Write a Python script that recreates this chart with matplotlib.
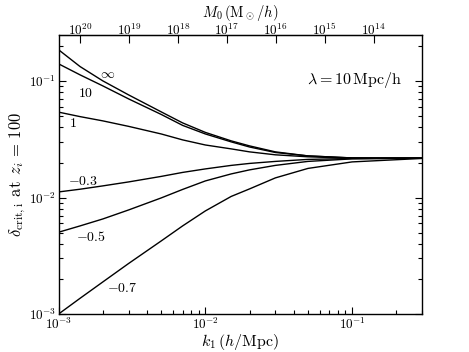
import numpy as np
import matplotlib
matplotlib.use("Agg")
import matplotlib.pyplot as plt
from matplotlib.ticker import FuncFormatter, NullLocator, FixedLocator

plt.rcParams['mathtext.fontset'] = 'cm'
plt.rcParams['font.family'] = 'DejaVu Serif'

# k_1 sample points (h/Mpc)
k1 = [1e-3, 1.4e-3, 2e-3, 3e-3, 5e-3, 7e-3, 1e-2, 1.5e-2, 2e-2, 3e-2, 5e-2, 0.1, 0.3]

# delta_crit,i at z_i = 100 for each curve
d_inf = [0.186, 0.1335, 0.1006, 0.0762, 0.0545, 0.0438, 0.0363, 0.0307, 0.0278, 0.0247, 0.0228, 0.0219, 0.0218]
d_10 = [0.1408, 0.1133, 0.0911, 0.0704, 0.0518, 0.0417, 0.0352, 0.0301, 0.0272, 0.0244, 0.0228, 0.0219, 0.0218]
d_1 = [0.0542, 0.0496, 0.0456, 0.0409, 0.0352, 0.0313, 0.0283, 0.0262, 0.0247, 0.0233, 0.0224, 0.0218, 0.0218]
d_m03 = [0.01118, 0.0118, 0.0126, 0.01363, 0.0152, 0.01645, 0.01763, 0.0189, 0.01965, 0.02045, 0.02128, 0.02166, 0.0218]
d_m05 = [0.00504, 0.00571, 0.00655, 0.00783, 0.00993, 0.01175, 0.0139, 0.01597, 0.0173, 0.0189, 0.02045, 0.0215, 0.0218]
d_m07 = [0.001, 0.001364, 0.001884, 0.002716, 0.00424, 0.00571, 0.00768, 0.01023, 0.01187, 0.01476, 0.0178, 0.02025, 0.02169]

curves = [d_inf, d_10, d_1, d_m03, d_m05, d_m07]
labels = [r'$\infty$', r'$10$', r'$1$', r'$-0.3$', r'$-0.5$', r'$-0.7$']
label_pos = [(0.00216, 0.1156), (0.00153, 0.0793), (0.00125, 0.0438),
             (0.00146, 0.0139), (0.00166, 0.00459), (0.0027, 0.00167)]

# mass scale M_0 = A k^-3
A = 10**11.44
mass_ticks = [1e14, 1e15, 1e16, 1e17, 1e18, 1e19, 1e20]

fig = plt.figure(figsize=(4.69, 3.52), dpi=100)
ax = fig.add_axes([0.125, 0.108, 0.775, 0.793])

for d in curves:
    ax.plot(k1, d, color='black', lw=1.0)

for lab, (x, y) in zip(labels, label_pos):
    ax.text(x, y, lab, fontsize=10, ha='center', va='center')

ax.text(0.218, 0.1026, r'$\lambda = 10\,\mathrm{Mpc/h}$', fontsize=11.5, ha='right', va='center')

ax.set_xscale('log')
ax.set_yscale('log')
ax.set_xlim(1e-3, 0.3)
ax.set_ylim(1e-3, 0.25)

fmt = FuncFormatter(lambda v, p: r'$10^{%d}$' % round(np.log10(v)))
ax.xaxis.set_major_formatter(fmt)
ax.yaxis.set_major_formatter(fmt)
ax.tick_params(which='both', direction='in', right=True, top=False, labelsize=9.5)
ax.tick_params(which='major', length=5, width=0.8, pad=2)
ax.tick_params(which='minor', length=3, width=0.8)

ax.set_xlabel(r'$k_1\,(h/\mathrm{Mpc})$', fontsize=11.5, labelpad=0)
ax.set_ylabel(r'$\delta_{\mathrm{crit,i}}\;\,\mathrm{at}\;\,z_i\, = \,100$', fontsize=12)
ax.yaxis.set_label_coords(-0.085, 0.5)

sec = ax.secondary_xaxis('top', functions=(lambda k: A / np.asarray(k)**3,
                                           lambda m: (A / np.asarray(m))**(1.0 / 3)))
sec.xaxis.set_major_locator(FixedLocator(mass_ticks))
sec.xaxis.set_minor_locator(NullLocator())
sec.xaxis.set_major_formatter(fmt)
sec.tick_params(direction='in', length=6, width=0.8, labelsize=9.5, pad=-2)
sec.set_xlabel(r'$M_0\,(\mathrm{M}_\odot/h)$', fontsize=10.5, labelpad=3.5)

for s in ax.spines.values():
    s.set_linewidth(1.0)

fig.savefig('out.png', dpi=100)
